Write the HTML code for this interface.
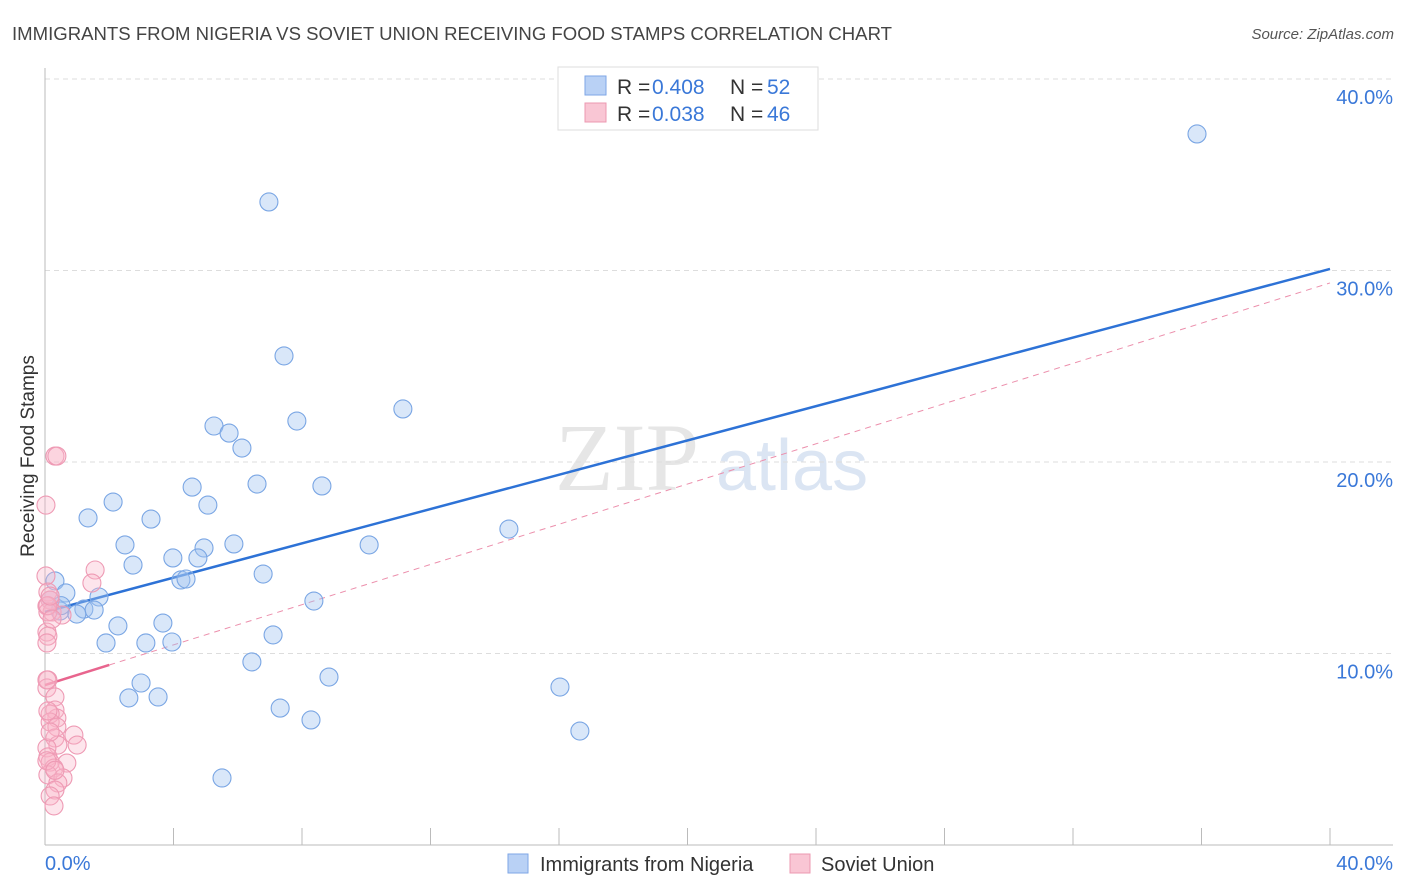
<!DOCTYPE html>
<html><head><meta charset="utf-8"><style>
body{margin:0;background:#fff;font-family:"Liberation Sans",sans-serif}
svg{display:block}
</style></head><body>
<svg id="c" width="1406" height="892" xmlns="http://www.w3.org/2000/svg">
<text x="12" y="40" font-size="18" fill="#444" textLength="880" lengthAdjust="spacingAndGlyphs">IMMIGRANTS FROM NIGERIA VS SOVIET UNION RECEIVING FOOD STAMPS CORRELATION CHART</text>
<text x="1394" y="39" font-size="15" fill="#555" font-style="italic" text-anchor="end">Source: ZipAtlas.com</text>
<g><text x="555" y="490" font-size="96" fill="#e6e6e6" font-family="Liberation Serif,serif">ZIP</text><text x="716" y="490" font-size="72" fill="#dbe5f3">atlas</text></g>
<g id="grid"></g>
<g id="axes"></g>
<text transform="translate(34,456) rotate(-90)" font-size="19" fill="#333" text-anchor="middle">Receiving Food Stamps</text>
<g id="lines"></g>
<g id="pts"></g>
<g>
<rect x="558" y="67" width="260" height="63" fill="#fff" stroke="#ddd"/>
<rect x="585" y="76" width="21" height="19" fill="#b9d1f5" stroke="#7ea6e6"/>
<rect x="585" y="103" width="21" height="19" fill="#f9c6d4" stroke="#ec98b1"/>
<g font-size="21" fill="#333"><text x="617" y="94">R =</text><text x="652" y="94" fill="#3a78d8">0.408</text><text x="730" y="94">N =</text><text x="767" y="94" fill="#3a78d8">52</text>
<text x="617" y="121">R =</text><text x="652" y="121" fill="#3a78d8">0.038</text><text x="730" y="121">N =</text><text x="767" y="121" fill="#3a78d8">46</text></g>
</g>
<g>
<rect x="508" y="854" width="20" height="19" fill="#b9d1f5" stroke="#7ea6e6"/>
<text x="540" y="871" font-size="20" fill="#333">Immigrants from Nigeria</text>
<rect x="790" y="854" width="20" height="19" fill="#f9c6d4" stroke="#ec98b1"/>
<text x="821" y="871" font-size="20" fill="#333">Soviet Union</text>
</g>
</svg>
<script>
const blueX=[35.86,6.97,7.44,11.14,7.84,5.26,5.73,6.13,4.58,6.60,8.62,2.12,5.07,1.34,3.30,14.44,2.49,5.88,10.09,4.95,3.98,4.76,2.74,6.79,4.23,4.39,0.31,0.65,1.68,0.16,8.37,1.21,1.53,0.47,0.99,3.67,2.27,7.10,1.90,3.14,3.95,6.44,8.84,2.99,16.03,2.61,3.52,7.32,8.28,16.65,5.51,0.5];
const blueY=[37.13,33.58,25.54,22.77,22.14,21.88,21.51,20.73,18.69,18.85,18.75,17.91,17.75,17.08,17.02,16.50,15.67,15.72,15.67,15.51,14.99,14.99,14.62,14.15,13.84,13.89,13.79,13.16,12.95,12.79,12.74,12.32,12.27,12.22,12.06,11.59,11.44,10.97,10.55,10.55,10.60,9.56,8.77,8.46,8.25,7.68,7.73,7.15,6.53,5.95,3.50,12.5];
const pinkX=[0.31,0.37,0.03,1.56,1.46,0.03,0.09,0.16,0.06,0.22,0.53,0.09,0.06,0.09,0.06,0.09,0.06,0.31,0.31,0.37,0.16,0.16,0.37,0.31,0.90,1.00,0.40,0.06,0.09,0.68,0.16,0.28,0.09,0.56,0.40,0.31,0.16,0.28,0.06,0.09,0.16,0.22,0.06,0.31,0.09,0.16];
const pinkY=[20.31,20.31,17.75,14.36,13.68,14.05,13.21,12.79,12.48,12.17,12.01,12.17,11.12,10.91,10.55,8.62,8.20,7.73,7.05,6.63,6.84,6.42,6.16,5.59,5.74,5.22,5.22,5.07,4.60,4.28,4.33,4.02,3.66,3.50,3.24,2.87,2.56,2.04,8.62,12.5,13.0,11.8,4.4,3.9,7.0,5.9];
const blueTrend=[12.17,30.08];
const pinkTrend=[8.35,29.35];
const pinkSolidEnd=2.0;
const yTicks=[10,20,30,40];
const xTickVals=[0,4,8,12,16,20,24,28,32,36,40];
const X=v=>45+v*32.125, Y=v=>845-v*19.15;
const NS="http://www.w3.org/2000/svg";
function mk(p,t,a){const e=document.createElementNS(NS,t);for(const k in a)e.setAttribute(k,a[k]);document.getElementById(p).appendChild(e);return e;}
yTicks.forEach(v=>{const l=mk('grid','line',{x1:45,x2:1393,y1:Y(v),y2:Y(v),stroke:'#ddd','stroke-dasharray':'5,4'});


const t=mk('grid','text',{x:1393,y:Y(v)+25,'font-size':20,fill:'#3a78d8','text-anchor':'end'});t.textContent=v.toFixed(1)+'%';

});
mk('axes','line',{x1:45,x2:45,y1:68,y2:845,stroke:'#bbb'});
mk('axes','line',{x1:45,x2:1393,y1:845,y2:845,stroke:'#bbb'});
xTickVals.forEach(v=>{if(v===0)return;const l=mk('axes','line',{x1:X(v),x2:X(v),y1:828,y2:845,stroke:'#bbb'});

});
let t=mk('axes','text',{x:45,y:870,'font-size':20,fill:'#3a78d8'});t.textContent='0.0%';


t=mk('axes','text',{x:1393,y:870,'font-size':20,fill:'#3a78d8','text-anchor':'end'});t.textContent='40.0%';


const py=(tr,x)=>tr[0]+(tr[1]-tr[0])*x/40;
blueX.forEach((x,i)=>{const c=mk('pts','circle',{cx:X(x),cy:Y(blueY[i]),r:9,fill:'rgba(160,195,240,0.4)',stroke:'#7aa6e4','stroke-width':1.1});

});
pinkX.forEach((x,i)=>{const c=mk('pts','circle',{cx:X(x),cy:Y(pinkY[i]),r:9,fill:'rgba(248,180,200,0.35)',stroke:'#ee9ab4','stroke-width':1.1});

});
let l=mk('lines','line',{x1:X(pinkSolidEnd),y1:Y(py(pinkTrend,pinkSolidEnd)),x2:X(40),y2:Y(pinkTrend[1]),stroke:'#ec8fac','stroke-dasharray':'6,5','stroke-width':1});


l=mk('lines','line',{x1:X(0),y1:Y(pinkTrend[0]),x2:X(pinkSolidEnd),y2:Y(py(pinkTrend,pinkSolidEnd)),stroke:'#e8658e','stroke-width':2.5});


l=mk('lines','line',{x1:X(0),y1:Y(blueTrend[0]),x2:X(40),y2:Y(blueTrend[1]),stroke:'#2d72d6','stroke-width':2.5});


</script>
</body></html>
